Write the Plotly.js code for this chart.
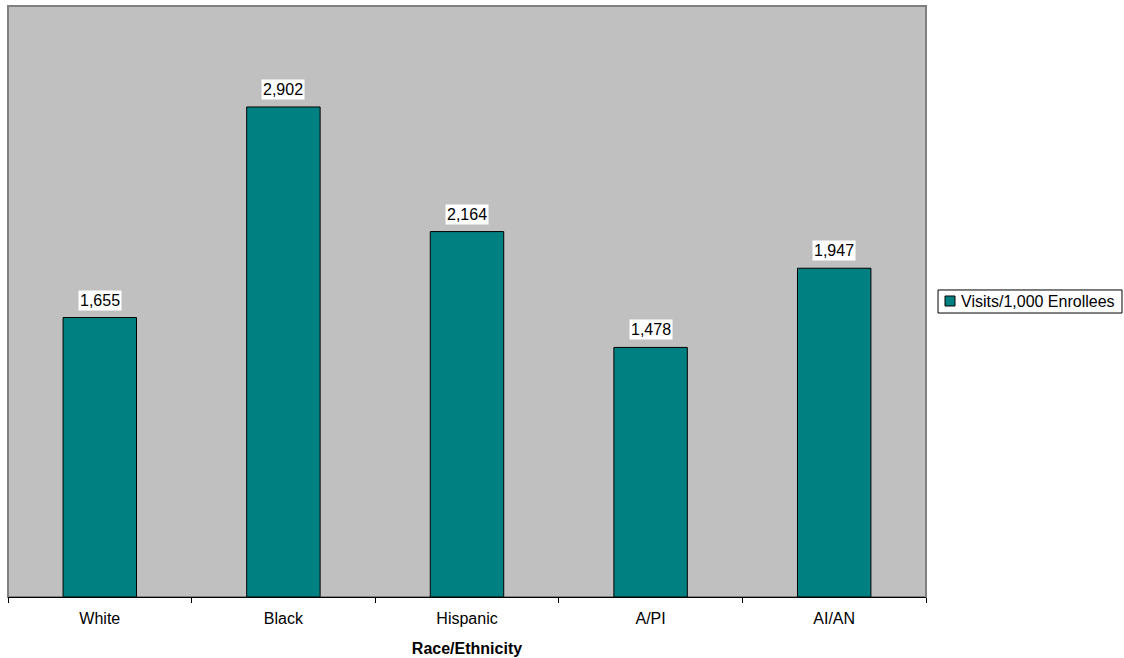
<!DOCTYPE html>
<html>
<head>
<meta charset="utf-8">
<script src="https://cdn.plot.ly/plotly-3.0.1.min.js"></script>
<style>html,body{margin:0;padding:0;background:#fff;}#chart{width:1124px;height:658px;}</style>
</head>
<body>
<div id="chart"></div>
<script>
const categories = ["White", "Black", "Hispanic", "A/PI", "AI/AN"];
const visits = [1655, 2902, 2164, 1478, 1947];
const seriesName = "Visits/1,000 Enrollees";
const axisTitle = "Race/Ethnicity";

const fmt = v => v.toLocaleString("en-US");
const FONT = "Liberation Sans, Arial, sans-serif";
const BAR_COLOR = "#008080";

const trace = {
  type: "bar",
  x: categories,
  y: visits,
  name: seriesName,
  marker: {color: BAR_COLOR, line: {color: "#000000", width: 1}},
  hoverinfo: "x+y",
  showlegend: false
};

const annotations = categories.map((c, i) => ({
  x: c, y: visits[i], xref: "x", yref: "y",
  text: fmt(visits[i]), showarrow: false,
  yanchor: "bottom", yshift: 7,
  bgcolor: "#ffffff", borderpad: 1,
  font: {family: FONT, size: 16, color: "#000"}
}));

// legend (drawn as a boxed key to the right of the plot)
annotations.push({
  xref: "paper", yref: "paper", x: 1.0355, y: 0.5005,
  xanchor: "left", yanchor: "middle",
  text: seriesName, showarrow: false,
  font: {family: FONT, size: 16, color: "#000"}
});

const layout = {
  width: 1124, height: 658,
  margin: {l: 8, r: 198, t: 6, b: 61, autoexpand: false},
  paper_bgcolor: "#ffffff",
  plot_bgcolor: "#c0c0c0",
  font: {family: FONT, size: 16, color: "#000"},
  bargap: 0.6,
  xaxis: {
    type: "category",
    tickson: "boundaries",
    ticks: "outside", ticklen: 5, tickcolor: "#000", tickwidth: 1,
    ticklabelstandoff: 7,
    showline: true, linecolor: "#000", linewidth: 1,
    showgrid: false,
    tickfont: {size: 16},
    title: {text: "<b>" + axisTitle + "</b>", font: {size: 16}, standoff: 16}
  },
  yaxis: {
    range: [0, 3500],
    showticklabels: false, showgrid: false, zeroline: false, ticks: ""
  },
  showlegend: false,
  shapes: [
    {type: "rect", xref: "paper", yref: "paper", x0: 0, x1: 1, y0: 0, y1: 1,
     line: {color: "#808080", width: 2}, fillcolor: "rgba(0,0,0,0)", layer: "below"},
    {type: "rect", xref: "paper", yref: "paper", x0: 1.0131, x1: 1.2135, y0: 0.4805, y1: 0.5195,
     line: {color: "#000000", width: 1}, fillcolor: "#ffffff", layer: "above"},
    {type: "rect", xref: "paper", yref: "paper", x0: 1.0207, x1: 1.0316, y0: 0.4924, y1: 0.5093,
     line: {color: "#000000", width: 1}, fillcolor: BAR_COLOR, layer: "above"}
  ],
  annotations: annotations
};

Plotly.newPlot("chart", [trace], layout, {displayModeBar: false, staticPlot: true});
</script>
</body>
</html>
